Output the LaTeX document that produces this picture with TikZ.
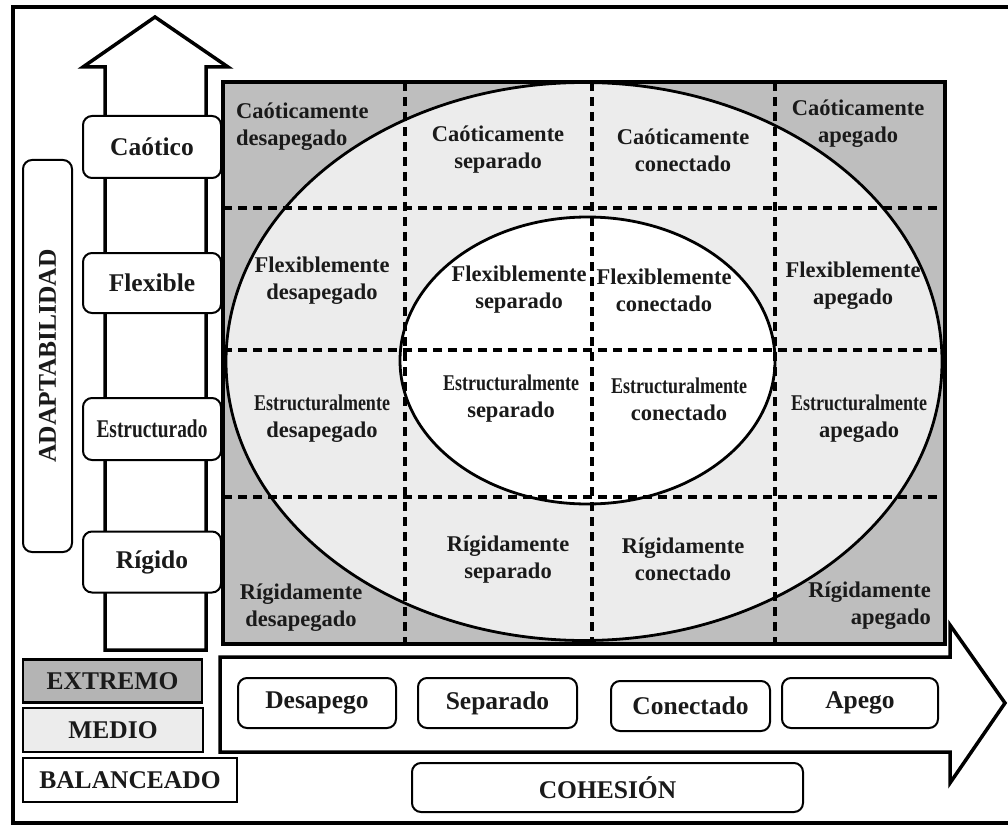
\documentclass[tikz,border=0pt]{standalone}
\usepackage{fontspec}
\setmainfont{Liberation Serif}
\definecolor{txt}{HTML}{1A1A1A}
\definecolor{extreme}{HTML}{BEBEBE}
\definecolor{medio}{HTML}{ECECEC}
\definecolor{legext}{HTML}{B4B4B4}
\newcommand{\cond}[1]{\scalebox{0.8}[1]{#1}}
\begin{document}
\begin{tikzpicture}[x=1pt,y=-1pt,
  lvl/.style={draw, line width=2pt, rounded corners=9pt, fill=white, inner sep=0pt,
    minimum width=138pt, minimum height=61pt, text=txt,
    font=\fontsize{25.5}{28}\selectfont\bfseries},
  cohbox/.style={draw, line width=2pt, rounded corners=9pt, fill=white, inner sep=0pt,
    minimum height=50pt, text=txt, font=\fontsize{25.5}{28}\selectfont\bfseries},
  legbox/.style={draw, line width=2.5pt, inner sep=0pt, minimum height=43pt, text=txt,
    font=\fontsize{25.5}{28}\selectfont\bfseries},
  cell/.style={align=center, inner sep=0pt, text=txt,
    font=\fontsize{22.5}{27}\selectfont\bfseries},
  gridline/.style={line width=3.5pt, dash pattern=on 9pt off 6pt},
  arrowline/.style={line width=3.5pt, line join=miter}
]
\useasboundingbox (0,0) rectangle (1008,826);
\clip (0,0) rectangle (1008,826);
\fill[white] (0,0) rectangle (1008,826);
% outer frame
\draw[line width=3.5pt] (1030,7) -- (13,7) -- (13,823) -- (1030,823);

% up arrow (adaptability)
\draw[arrowline, fill=white] (105,650) -- (105,67) -- (83,67) -- (155,17) -- (228,67) -- (206,67) -- (206,650) -- cycle;
% right arrow (cohesion)
\draw[arrowline, fill=white] (220,657) -- (950,657) -- (950,625) -- (1005,703) -- (950,783) -- (950,752) -- (220,752) -- cycle;

% main grid
\begin{scope}
  \clip (223,82) rectangle (945,644);
  \fill[extreme] (223,82) rectangle (945,644);
  \fill[medio] (584,361.5) ellipse [x radius=358, y radius=279];
  \fill[white] (587.5,360.5) ellipse [x radius=187.5, y radius=143.5];
  \draw[line width=2.8pt] (584,361.5) ellipse [x radius=358, y radius=279];
  \draw[line width=2.8pt] (587.5,360.5) ellipse [x radius=187.5, y radius=143.5];
  \draw[gridline] (405,82) -- (405,644);
  \draw[gridline] (592,82) -- (592,644);
  \draw[gridline] (775,82) -- (775,644);
  \draw[gridline] (223,208) -- (945,208);
  \draw[gridline] (223,350) -- (945,350);
  \draw[gridline] (223,497) -- (945,497);
\end{scope}
\draw[line width=3.5pt] (223,82) rectangle (945,644);

% cell labels
\node[cell, anchor=west, align=left] (cd) at (236,127) {Caóticamente\\desapegado};
\node[cell] (cs) at (498,150) {Caóticamente\\separado};
\node[cell] (cc) at (683,150) {Caóticamente\\conectado};
\node[cell] (ca) at (858,124) {Caóticamente\\apegado};
\node[cell] (fd) at (322,281) {Flexiblemente\\desapegado};
\node[cell] (fs) at (519,290) {Flexiblemente\\separado};
\node[cell] (fc) at (664,290) {Flexiblemente\\conectado};
\node[cell] (fa) at (853,286) {Flexiblemente\\apegado};
\node[cell] (ed) at (322,419) {\cond{Estructuralmente}\\desapegado};
\node[cell] (es) at (511,399) {\cond{Estructuralmente}\\separado};
\node[cell] (ec) at (679,399) {\cond{Estructuralmente}\\conectado};
\node[cell] (ea) at (859,419) {\cond{Estructuralmente}\\apegado};
\node[cell] (rd) at (301,608) {Rígidamente\\desapegado};
\node[cell] (rs) at (508,560) {Rígidamente\\separado};
\node[cell] (rc) at (683,559) {Rígidamente\\conectado};
\node[cell, anchor=east, align=right] (ra) at (931,606) {Rígidamente\\apegado};

% adaptability levels
\node[lvl, minimum height=62pt] (caot) at (152,147) {Caótico};
\node[lvl, minimum height=60pt] (flex) at (152,283) {Flexible};
\node[lvl, minimum height=62pt] (estr) at (152,429) {\scalebox{0.76}[1]{Estructurado}};
\node[lvl] (rig) at (152,562) {Rígido};
\node[lvl, rotate=90, minimum width=392pt, minimum height=49pt] (adapt) at (47.5,356) {ADAPTABILIDAD};

% legend
\node[legbox, fill=legext, minimum width=179pt] (ext) at (112.5,681) {EXTREMO};
\node[legbox, fill=medio, minimum width=180pt, minimum height=44pt] (med) at (113,730) {MEDIO};
\node[legbox, fill=white, minimum width=214pt, minimum height=44pt] (bal) at (130,780) {BALANCEADO};

% cohesion levels
\node[cohbox, minimum width=158pt] (desap) at (317,703) {Desapego};
\node[cohbox, minimum width=159pt] (sep) at (497.5,703) {Separado};
\node[cohbox, minimum width=159pt] (con) at (690.5,706) {Conectado};
\node[cohbox, minimum width=156pt] (ape) at (860,703) {Apego};
\node[cohbox, minimum width=391pt, minimum height=49pt] (coh) at (607.5,787.5) {COHESIÓN};
\end{tikzpicture}
\end{document}
